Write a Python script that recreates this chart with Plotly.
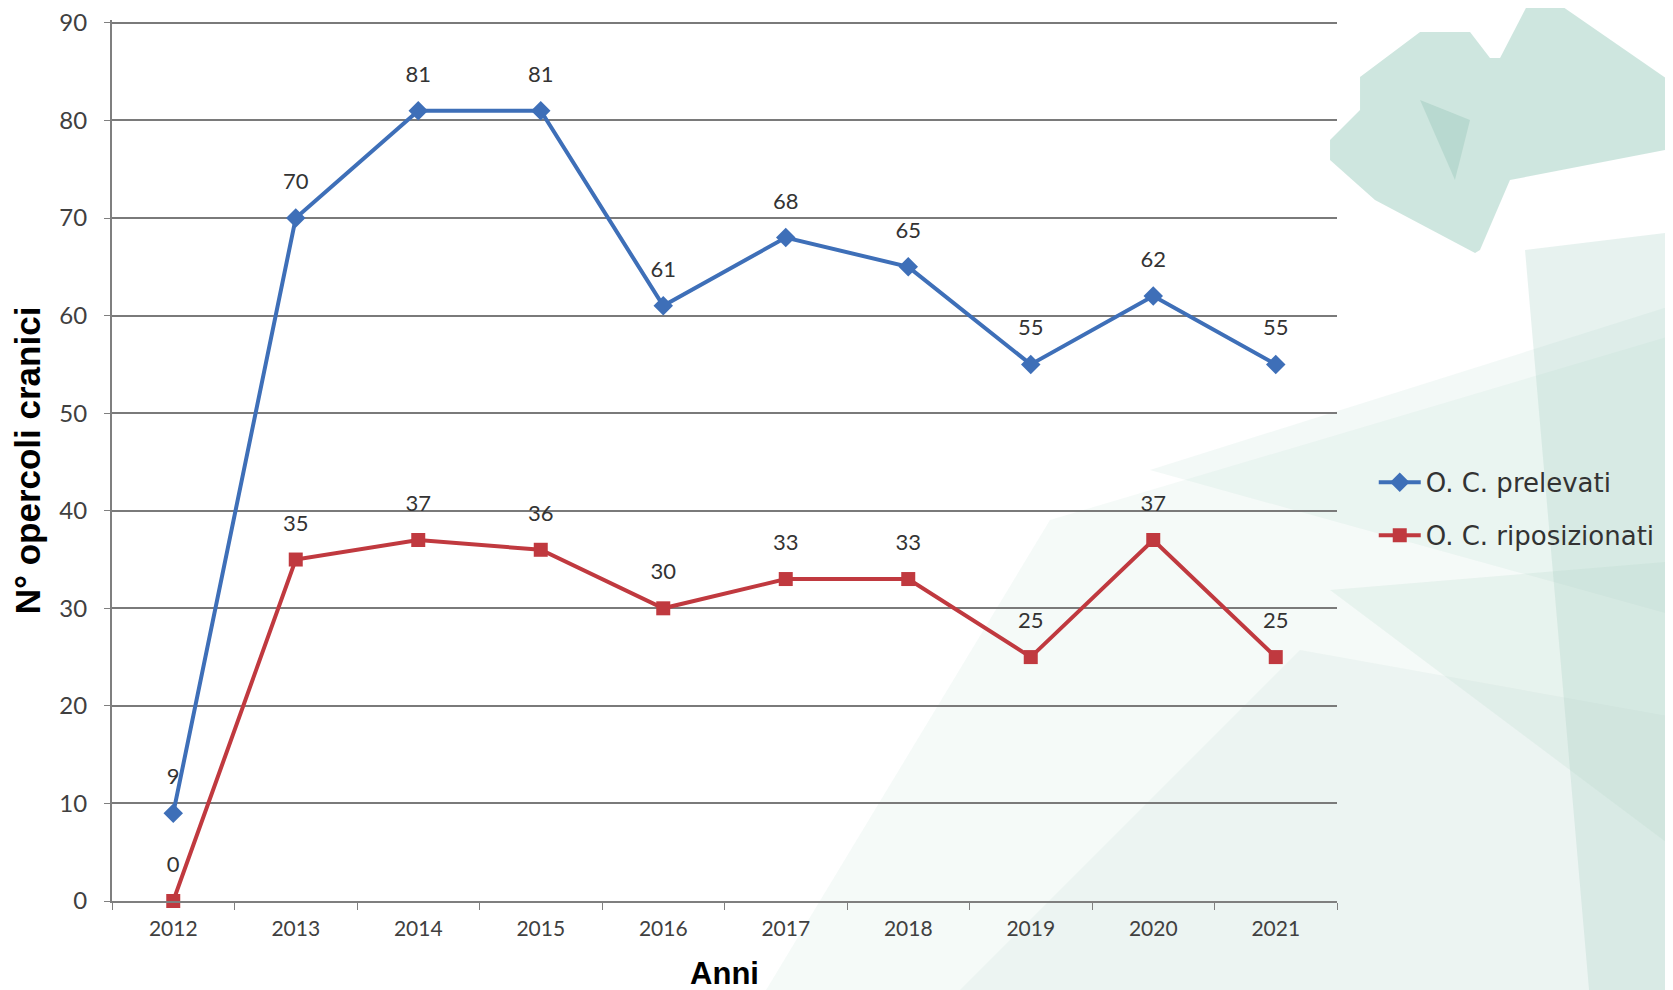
import plotly.graph_objects as go

years = ["2012", "2013", "2014", "2015", "2016", "2017", "2018", "2019", "2020", "2021"]
prelevati = [9, 70, 81, 81, 61, 68, 65, 55, 62, 55]
riposizionati = [0, 35, 37, 36, 30, 33, 33, 25, 37, 25]
y_ticks = [0, 10, 20, 30, 40, 50, 60, 70, 80, 90]

W, H = 1673, 990
OFF = 8  # page body margin
L, R, T, B = 104, 1329, 12, 893
PW, PH = R - L, B - T
Y_TOP = 90.3  # a hair above the last tick so the 90 gridline/label are kept


def pp(x, y):
    # page pixel -> paper coords
    return (x - OFF - L) / PW, (B - (y - OFF)) / PH


def poly(points, color):
    pts = [pp(x, y) for x, y in points]
    path = "M " + " L ".join(f"{a:.4f},{b:.4f}" for a, b in pts) + " Z"
    return dict(type="path", xref="paper", yref="paper", path=path,
                fillcolor=color, line=dict(width=0), layer="below")


shapes = [
    poly([(760, 1000), (1050, 520), (1690, 330), (1690, 1000)], "rgba(205,228,220,0.20)"),
    poly([(950, 1000), (1300, 650), (1690, 720), (1690, 1000)], "rgba(185,218,207,0.15)"),
    poly([(1150, 470), (1690, 300), (1690, 620)], "rgba(190,220,210,0.18)"),
    poly([(1525, 250), (1690, 230), (1690, 1000), (1590, 1000)], "rgba(160,205,190,0.25)"),
    poly([(1330, 590), (1690, 560), (1690, 860)], "rgba(170,210,196,0.18)"),
    poly([(1360, 77), (1420, 32), (1470, 32), (1490, 58), (1500, 58), (1530, 0),
          (1553, 0), (1690, 95), (1690, 145), (1510, 180), (1480, 250), (1475, 253),
          (1375, 200), (1330, 160), (1330, 140), (1360, 110)], "rgba(120,185,165,0.36)"),
    poly([(1420, 100), (1470, 120), (1455, 180)], "rgba(110,175,155,0.22)"),
]

blue = "#3E6FB8"
red = "#C0393F"
lab_font = dict(family="Lato, sans-serif", size=22, color="#333333")

fig = go.Figure()
fig.add_trace(go.Scatter(
    x=years, y=prelevati, name="O. C. prelevati", mode="lines+markers",
    legendgroup="a",
    line=dict(color=blue, width=4), marker=dict(symbol="diamond", size=15, color=blue),
    cliponaxis=False))
fig.add_trace(go.Scatter(
    x=years, y=riposizionati, name="O. C. riposizionati", mode="lines+markers",
    legendgroup="b",
    line=dict(color=red, width=4), marker=dict(symbol="square", size=14, color=red),
    cliponaxis=False))

# data labels: text traces with invisible large markers to lift the labels
for series in (prelevati, riposizionati):
    fig.add_trace(go.Scatter(
        x=years, y=series, mode="markers+text", showlegend=False, hoverinfo="skip",
        marker=dict(size=36, opacity=0, color="white"),
        text=[str(v) for v in series], textposition="top center", textfont=lab_font,
        cliponaxis=False))

fig.update_layout(
    width=W, height=H,
    margin=dict(l=L, r=W - R, t=T, b=H - B),
    paper_bgcolor="white", plot_bgcolor="rgba(0,0,0,0)",
    shapes=shapes,
    showlegend=True,
    legend=dict(x=1.03, y=0.445, xanchor="left", yanchor="middle",
                font=dict(family="DejaVu Sans, sans-serif", size=26, color="#333333"),
                bgcolor="rgba(0,0,0,0)", tracegroupgap=16, itemwidth=42),
    xaxis=dict(type="category", range=[-0.5, 9.5], showgrid=False, automargin=False,
               showline=True, linecolor="#7f7f7f", linewidth=2,
               ticks="outside", tickson="boundaries", ticklen=7, tickcolor="#7f7f7f",
               ticklabelstandoff=8,
               tickfont=dict(family="Lato, sans-serif", size=21, color="#404040"),
               title=dict(text="<b>Anni</b>", font=dict(family="Liberation Sans, Arial", size=31, color="black"),
                          standoff=23)),
    yaxis=dict(range=[0, Y_TOP], tickmode="array", tickvals=y_ticks,
               showgrid=True, gridcolor="#7a7a7a", gridwidth=1.8,
               automargin=False, ticklabeloverflow="allow",
               showline=True, linecolor="#7f7f7f", linewidth=2, zeroline=False,
               ticks="outside", ticklen=6, tickcolor="#7f7f7f", ticklabelstandoff=12,
               tickfont=dict(family="Lato, sans-serif", size=24, color="#404040"),
               title=dict(text="<b>N° opercoli cranici</b>", font=dict(family="Liberation Sans, Arial", size=35, color="black"),
                          standoff=8)),
)

fig.write_html("out.html")
